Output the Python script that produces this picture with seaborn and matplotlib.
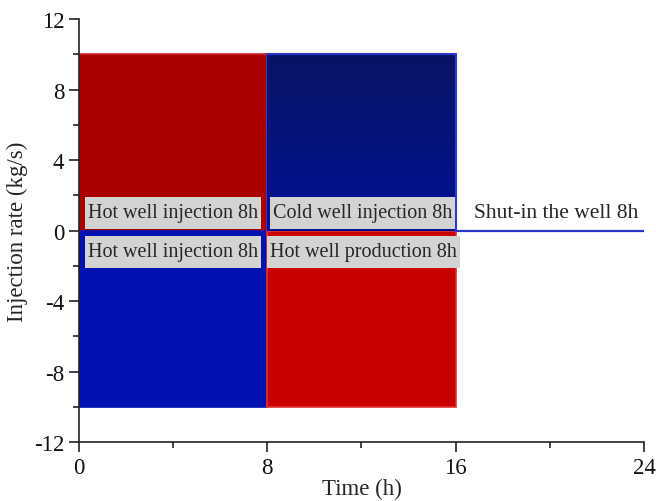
import numpy as np
import pandas as pd
import matplotlib
matplotlib.use("Agg")
import matplotlib.pyplot as plt
import seaborn as sns
from matplotlib.colors import LinearSegmentedColormap
from matplotlib.patches import Rectangle
from matplotlib.ticker import MultipleLocator

# Operating schedule: each stage starts at t_start and lasts `duration` hours
t_start = [0, 8, 0, 8]
duration = [8, 8, 8, 8]
rate = [10, 10, -10, -10]
bar_colors = ["#aa0000", "#0b1466", "#0012b0", "#c80000"]
edge_colors = ["#d02020", "#2a38d0", "#0012b0", "#e03030"]

# Shut-in period
shut_time = [16, 24]
shut_rate = [0, 0]

stage_labels = ["Hot well injection 8h", "Cold well injection 8h",
                "Hot well injection 8h", "Hot well production 8h"]
label_x = [4.0, 12.05, 4.0, 12.1]
label_y = [1.02, 1.02, -1.2, -1.2]

x_ticks = [0, 8, 16, 24]
y_ticks = [-12, -8, -4, 0, 4, 8, 12]

sns.set_style("ticks")
plt.rcParams["font.family"] = ["Liberation Serif", "DejaVu Serif"]
plt.rcParams["axes.unicode_minus"] = False

fig = plt.figure(figsize=(6.56, 5.02), dpi=100)
ax = fig.add_axes([0.1204, 0.1175, 0.8613, 0.8425])

df = pd.DataFrame({"start": t_start, "dur": duration, "rate": rate})
bars = ax.bar(df["start"], df["rate"], width=df["dur"], align="edge",
              color=bar_colors, edgecolor=edge_colors, linewidth=1.2, zorder=2)

# vertical shading on the cold-injection block (dark navy at the top)
cold = bars[1]
grad = np.linspace(0, 1, 256).reshape(-1, 1)
cmap = LinearSegmentedColormap.from_list("cold", ["#001296", "#0a1464"])
x0, w = cold.get_x(), cold.get_width()
y0, h = cold.get_y(), cold.get_height()
im = ax.imshow(grad, cmap=cmap, aspect="auto", origin="lower",
               extent=[x0, x0 + w, y0, y0 + h], zorder=2.5)
im.set_clip_path(cold)
ax.plot([x0, x0 + w, x0 + w], [y0 + h, y0 + h, y0], color="#2a38d0",
        lw=1.5, zorder=3)

sns.lineplot(x=shut_time, y=shut_rate, color="#2a38d0", lw=1.6, ax=ax,
             zorder=3)

ax.set_xlim(0, 24)
ax.set_ylim(-12, 12)

# stage captions on grey boxes (box padded in pixels around the text)
texts = [ax.text(xx, yy, txt, ha="center", va="center", fontsize=14.5,
                 zorder=4)
         for txt, xx, yy in zip(stage_labels, label_x, label_y)]
fig.canvas.draw()
renderer = fig.canvas.get_renderer()
inv = ax.transData.inverted()
pad_x, pad_y = 3, 6.5
for t in texts:
    bb = t.get_window_extent(renderer)
    (ax0, ay0) = inv.transform((bb.x0 - pad_x, bb.y0 - pad_y))
    (ax1, ay1) = inv.transform((bb.x1 + pad_x, bb.y1 + pad_y))
    ax.add_patch(Rectangle((ax0, ay0), ax1 - ax0, ay1 - ay0,
                           facecolor="#d3d3d3", edgecolor="none", zorder=3.5))

ax.text(20.27, 1.0, "Shut-in the well 8h", ha="center", va="center",
        fontsize=15.5, zorder=4)

ax.set_xticks(x_ticks)
ax.set_yticks(y_ticks)
ax.xaxis.set_minor_locator(MultipleLocator(4))
ax.yaxis.set_minor_locator(MultipleLocator(2))
ax.tick_params(which="major", direction="out", length=7, width=1.2,
               labelsize=16.5, color="#222222", labelcolor="#111111")
ax.tick_params(which="minor", direction="out", length=4, width=1.2,
               color="#222222")
for s in ["top", "right"]:
    ax.spines[s].set_visible(False)
for s in ["left", "bottom"]:
    ax.spines[s].set_linewidth(1.2)
    ax.spines[s].set_color("#222222")

ax.set_xlabel("Time (h)", fontsize=16.5, labelpad=0)
ax.set_ylabel("Injection rate (kg/s)", fontsize=16.5, labelpad=4)

fig.savefig("out.png", dpi=100)
